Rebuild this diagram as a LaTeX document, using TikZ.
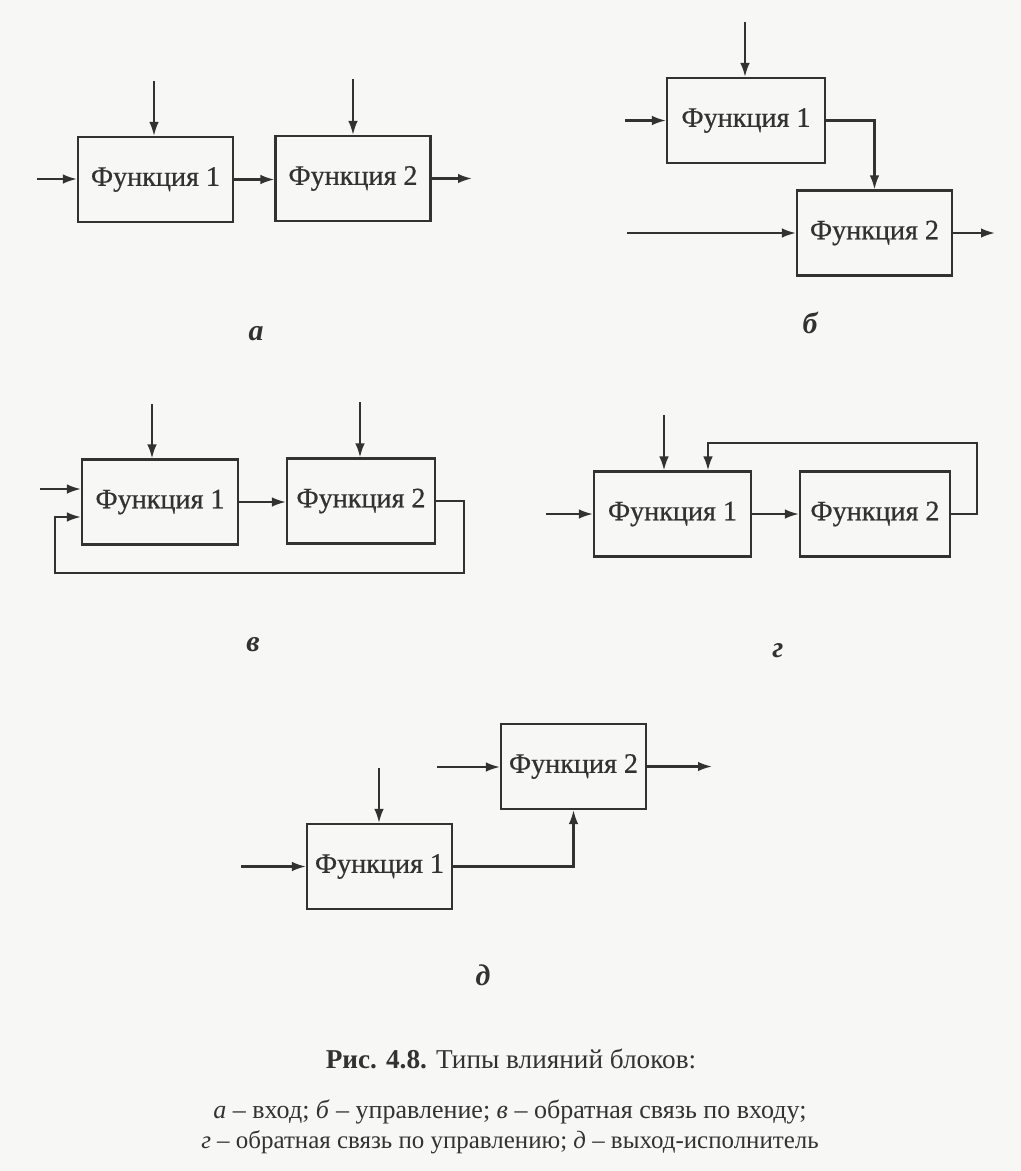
\documentclass[tikz,border=0pt]{standalone}
\usepackage{fontspec}
\setmainfont{Liberation Serif}
\newfontface\boxfont[FakeBold=0.6]{Liberation Serif}
\usetikzlibrary{arrows.meta}
\definecolor{ink}{RGB}{50,50,50}
\definecolor{paper}{RGB}{247,247,245}
\tikzset{
  block/.style={draw=ink,line width=1.2pt,rectangle,minimum width=3.1cm,minimum height=1.7cm,inner sep=0pt,font=\boxfont\fontsize{16}{19}\selectfont,text=ink},
  flow/.style={draw=ink,line width=1.2pt,-{Latex[length=2.8mm,width=1.9mm]}},
  sub/.style={font=\fontsize{17}{20}\selectfont\bfseries\itshape,text=ink},
  capline/.style={font=\fontsize{14.8}{17}\selectfont,text=ink}
}
\begin{document}
\begin{tikzpicture}[x=0.02cm,y=-0.02cm]
        %% Page
        \fill[paper] (0,0) rectangle (1021,1171);
        \useasboundingbox (0,0) rectangle (1021,1171);
        %% (a) input
        \node[block] (A1) at (155.5,179.5) {Функция 1};
        \node[block] (A2) at (353,178.5) {Функция 2};
        \coordinate (a1in) at (37,179);
        \coordinate (a1c) at (154,81);
        \coordinate (a2c) at (353,79);
        \coordinate (a2out) at (472,179);
        \draw[flow] (a1in) -- (a1in -| A1.west);
        \draw[flow] (a1c) -- (a1c |- A1.north);
        \draw[flow] (a2c) -- (a2c |- A2.north);
        \draw[flow] (A1.east) -- (A1.east -| A2.west);
        \draw[flow] (A2.east) -- (A2.east -| a2out);
        \node[sub] (la) at (256,334) {а};
        %% (b) control
        \node[block,minimum width=3.16cm] (B1) at (746,120.5) {Функция 1};
        \node[block] (B2) at (874.5,233) {Функция 2};
        \coordinate (b1c) at (745,22);
        \coordinate (b1in) at (625,120.5);
        \coordinate (b2in) at (627,233);
        \coordinate (b2out) at (995,233);
        \draw[flow] (b1c) -- (b1c |- B1.north);
        \draw[flow] (b1in) -- (B1.west);
        \draw[flow] (B1.east) -| (B2.north);
        \draw[flow] (b2in) -- (B2.west);
        \draw[flow] (B2.east) -- (b2out);
        \node[sub] (lb) at (810,323) {б};
        %% (c) input feedback
        \node[block,minimum width=3.12cm] (C1) at (160,502) {Функция 1};
        \node[block,minimum width=2.96cm] (C2) at (361,501) {Функция 2};
        \coordinate (c1c) at (152,404);
        \coordinate (c2c) at (360,402);
        \coordinate (c1in) at (40,489);
        \coordinate (cfb) at (55,573);
        \draw[flow] (c1c) -- (c1c |- C1.north);
        \draw[flow] (c2c) -- (c2c |- C2.north);
        \draw[flow] (c1in) -- (c1in -| C1.west);
        \draw[flow] (C1.east) -- (C1.east -| C2.west);
        \draw[flow] (C2.east) -- ++(28,0) |- (cfb) |- ([yshift=-0.3cm]C1.west);
        \node[sub] (lc) at (253,645) {в};
        %% (d) control feedback
        \node[block,minimum width=3.14cm] (D1) at (672.5,514) {Функция 1};
        \node[block,minimum width=3.0cm] (D2) at (875,514) {Функция 2};
        \coordinate (d1c) at (664,415);
        \coordinate (d1in) at (546,514);
        \coordinate (dfb) at (708,443);
        \draw[flow] (d1c) -- (d1c |- D1.north);
        \draw[flow] (d1in) -- (D1.west);
        \draw[flow] (D1.east) -- (D2.west);
        \draw[flow] (D2.east) -- ++(26,0) |- (dfb) -- (dfb |- D1.north);
        \node[sub] (ld) at (778,651) {г};
        %% (e) output-actor
        \node[block,minimum width=2.9cm] (E2) at (573.5,766.5) {Функция 2};
        \node[block,minimum width=2.9cm] (E1) at (379.5,866.5) {Функция 1};
        \coordinate (e2in) at (437,767);
        \coordinate (e2out) at (712,767);
        \coordinate (e1c) at (379,768);
        \coordinate (e1in) at (241,866.5);
        \draw[flow] (e2in) -- (e2in -| E2.west);
        \draw[flow] (E2.east) -- (E2.east -| e2out);
        \draw[flow] (e1c) -- (e1c |- E1.north);
        \draw[flow] (e1in) -- (E1.west);
        \draw[flow] (E1.east) -| (E2.south);
        \node[sub] (le) at (483,975) {д};
        %% Caption
        \node[font=\fontsize{15.5}{18}\selectfont,text=ink] (cap) at (511,1059) {\textbf{Рис. 4.8.} Типы влияний блоков:};
        \node[capline] (capb) at (510,1112) {\textit{а} – вход; \textit{б} – управление; \textit{в} – обратная связь по входу;};
        \node[capline,font=\fontsize{14.2}{17}\selectfont] (capc) at (510,1142) {\textit{г} – обратная связь по управлению; \textit{д} – выход-исполнитель};
\end{tikzpicture}
\end{document}
